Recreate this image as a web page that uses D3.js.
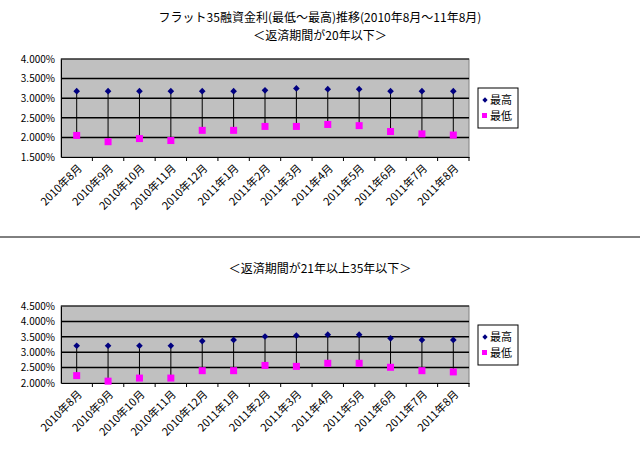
<!DOCTYPE html><html><head><meta charset="utf-8"><script src="https://cdn.jsdelivr.net/npm/d3@7"></script>
<style>body{margin:0;background:#fff}text{font-family:"Noto Sans CJK JP",sans-serif}</style></head><body><svg id="c" width="640" height="449"></svg>
<script>
const categories=["2010年8月","2010年9月","2010年10月","2010年11月","2010年12月","2011年1月","2011年2月","2011年3月","2011年4月","2011年5月","2011年6月","2011年7月","2011年8月"];
const high1=[3.18,3.18,3.18,3.18,3.18,3.18,3.20,3.25,3.23,3.23,3.18,3.18,3.18];
const low1=[2.05,1.89,1.97,1.92,2.18,2.18,2.28,2.28,2.33,2.30,2.15,2.09,2.06];
const high2=[3.21,3.21,3.21,3.21,3.36,3.40,3.51,3.54,3.57,3.57,3.45,3.40,3.40];
const low2=[2.24,2.06,2.16,2.16,2.40,2.40,2.57,2.54,2.64,2.64,2.51,2.40,2.36];
const ticks1=[1.5,2,2.5,3,3.5,4];
const ticks2=[2,2.5,3,3.5,4,4.5];
const svg=d3.select("#c");
svg.append("text").attr("x",320).attr("y",22).attr("text-anchor","middle").attr("font-size",12).text("フラット35融資金利(最低～最高)推移(2010年8月～11年8月)");
svg.append("text").attr("x",320).attr("y",40).attr("text-anchor","middle").attr("font-size",12).text("＜返済期間が20年以下＞");
svg.append("line").attr("x1",0).attr("x2",640).attr("y1",237).attr("y2",237).attr("stroke","#000");
svg.append("text").attr("x",320).attr("y",273).attr("text-anchor","middle").attr("font-size",12).text("＜返済期間が21年以上35年以下＞");
function chart(top,bottom,dom,ticks,hi,lo,legY){
  const x=d3.scaleBand().domain(categories).range([61,469]);
  const y=d3.scaleLinear().domain(dom).range([bottom,top]);
  const g=svg.append("g");
  g.append("rect").attr("x",61).attr("y",top).attr("width",408).attr("height",bottom-top).attr("fill","#c0c0c0").attr("stroke","#808080");
  g.selectAll(".gl").data(ticks.slice(1)).join("line").attr("x1",61).attr("x2",469).attr("y1",d=>y(d)).attr("y2",d=>y(d)).attr("stroke","#000").attr("stroke-width",d=>d===ticks[ticks.length-1]?1:1.5);
  const ya=g.append("g").attr("transform","translate(61,0)").call(d3.axisLeft(y).tickValues(ticks).tickFormat(d=>d.toFixed(3)+"%").tickSize(0).tickPadding(6));
  ya.select(".domain").attr("stroke","#000");ya.selectAll("text").attr("font-size",10).attr("font-family","Liberation Sans,Arial");
  const xa=g.append("g").attr("transform",`translate(0,${bottom})`).call(d3.axisBottom(x).tickSizeInner(4).tickSizeOuter(0));
  xa.selectAll(".tick line").attr("transform",`translate(${x.bandwidth()/2},0)`);
  xa.selectAll("text").attr("font-size",11).attr("text-anchor","end").attr("dy",0).attr("y",0).attr("transform","translate(6,12) rotate(-45)");
  const c=d=>x(d)+x.bandwidth()/2;
  g.selectAll(".st").data(categories).join("line").attr("x1",c).attr("x2",c).attr("y1",(d,i)=>y(hi[i])).attr("y2",(d,i)=>y(lo[i])).attr("stroke","#000");
  g.selectAll(".lo").data(categories).join("rect").attr("x",d=>c(d)-3.5).attr("y",(d,i)=>y(lo[i])-3.5).attr("width",7).attr("height",7).attr("fill","#ff00ff");
  g.selectAll(".hi").data(categories).join("path").attr("d",d3.symbol(d3.symbolSquare,22)).attr("transform",(d,i)=>`translate(${c(d)},${y(hi[i])}) rotate(45)`).attr("fill","#000080");
  const lg=g.append("g").attr("transform",`translate(478,${legY})`);
  lg.append("rect").attr("width",40).attr("height",40).attr("fill","#fff").attr("stroke","#000");
  lg.append("path").attr("d",d3.symbol(d3.symbolSquare,14)).attr("transform","translate(7,12) rotate(45)").attr("fill","#000080");
  lg.append("rect").attr("x",4).attr("y",25).attr("width",5).attr("height",5).attr("fill","#ff00ff");
  lg.append("text").attr("x",12).attr("y",16).attr("font-size",11).text("最高");
  lg.append("text").attr("x",12).attr("y",32).attr("font-size",11).text("最低");
}
chart(59,157,[1.5,4],ticks1,high1,low1,88);
chart(306,383,[2,4.5],ticks2,high2,low2,325);
</script></body></html>
